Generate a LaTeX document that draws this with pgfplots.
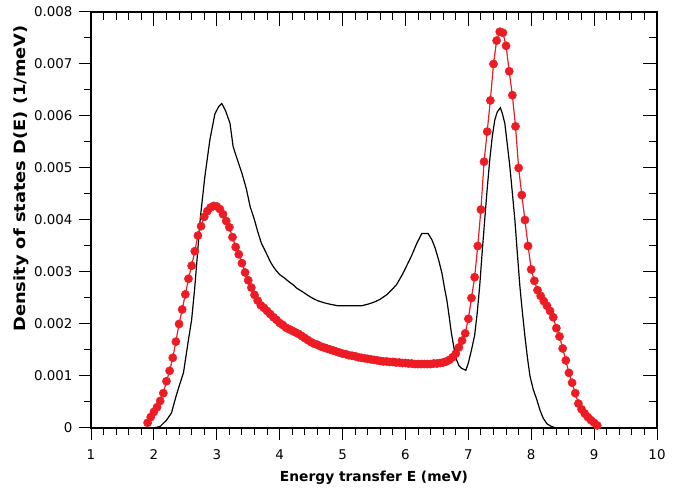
\documentclass[border=0pt]{standalone}
\usepackage{fontspec}
\setmainfont{DejaVu Sans}
\usepackage{graphicx}
\usepackage{pgfplots}
\usepackage{pgfplotstable}
\pgfplotsset{compat=1.18}
\usetikzlibrary{calc}
\definecolor{dotred}{RGB}{237,28,36}

% measured density of states (red dots)
\pgfplotstableread{
E D
1.90 0.00010
1.95 0.00021
2.00 0.00031
2.05 0.00040
2.10 0.00052
2.15 0.00067
2.20 0.00090
2.25 0.00110
2.30 0.00135
2.35 0.00166
2.40 0.00200
2.45 0.00228
2.50 0.00257
2.55 0.00287
2.60 0.00312
2.65 0.00340
2.70 0.00370
2.75 0.00388
2.80 0.00406
2.85 0.00417
2.90 0.00424
2.95 0.00427
3.00 0.00426
3.05 0.00421
3.10 0.00411
3.15 0.00398
3.20 0.00386
3.25 0.00367
3.30 0.00348
3.35 0.00334
3.40 0.00317
3.45 0.00299
3.50 0.00284
3.55 0.00270
3.60 0.00256
3.65 0.00245
3.70 0.00236
3.75 0.00231
3.80 0.00225
3.85 0.00219
3.90 0.00213
3.95 0.00208
4.00 0.00202
4.05 0.00198
4.10 0.00193
4.15 0.00190
4.20 0.00187
4.25 0.00184
4.30 0.00181
4.35 0.00177
4.40 0.00173
4.45 0.00169
4.50 0.00165
4.55 0.00162
4.60 0.00160
4.65 0.00157
4.70 0.00155
4.75 0.00153
4.80 0.00151
4.85 0.00149
4.90 0.00147
4.95 0.00145
5.00 0.00143
5.05 0.00142
5.10 0.00140
5.15 0.00139
5.20 0.00138
5.25 0.00136
5.30 0.00135
5.35 0.00134
5.40 0.00133
5.45 0.00132
5.50 0.00131
5.55 0.00130
5.60 0.00129
5.65 0.00128
5.70 0.00128
5.75 0.00127
5.80 0.00127
5.85 0.00126
5.90 0.00126
5.95 0.00125
6.00 0.00125
6.05 0.00124
6.10 0.00124
6.15 0.00123
6.20 0.00123
6.25 0.00123
6.30 0.00123
6.35 0.00123
6.40 0.00123
6.45 0.00124
6.50 0.00124
6.55 0.00125
6.60 0.00126
6.65 0.00128
6.70 0.00131
6.75 0.00136
6.80 0.00143
6.85 0.00155
6.90 0.00168
6.95 0.00182
7.00 0.00210
7.05 0.00250
7.10 0.00290
7.15 0.00350
7.20 0.00420
7.25 0.00512
7.30 0.00570
7.35 0.00630
7.40 0.00700
7.45 0.00745
7.50 0.00762
7.55 0.00760
7.60 0.00735
7.65 0.00686
7.70 0.00640
7.75 0.00580
7.80 0.00500
7.85 0.00448
7.90 0.00400
7.95 0.00350
8.00 0.00305
8.05 0.00283
8.10 0.00265
8.15 0.00254
8.20 0.00244
8.25 0.00235
8.30 0.00225
8.35 0.00213
8.40 0.00192
8.45 0.00176
8.50 0.00153
8.55 0.00130
8.60 0.00106
8.65 0.00087
8.70 0.00067
8.75 0.00047
8.80 0.00036
8.85 0.00028
8.90 0.00021
8.95 0.00015
9.00 0.00010
9.05 0.00005
}\dotdata

% calculated curve (black line)
\pgfplotstableread{
E D
2.00 0.00000
2.10 0.00003
2.20 0.00015
2.28 0.00029
2.35 0.00060
2.40 0.00080
2.47 0.00106
2.55 0.00170
2.60 0.00208
2.65 0.00270
2.69 0.00330
2.74 0.00406
2.81 0.00483
2.89 0.00554
2.97 0.00604
3.03 0.00618
3.08 0.00624
3.14 0.00610
3.21 0.00586
3.26 0.00541
3.33 0.00515
3.40 0.00490
3.47 0.00460
3.53 0.00426
3.60 0.00400
3.65 0.00378
3.71 0.00355
3.76 0.00343
3.80 0.00333
3.85 0.00320
3.90 0.00310
3.95 0.00302
4.00 0.00295
4.06 0.00290
4.10 0.00286
4.16 0.00280
4.22 0.00275
4.27 0.00269
4.35 0.00263
4.45 0.00255
4.53 0.00249
4.60 0.00245
4.70 0.00241
4.80 0.00238
4.93 0.00235
5.10 0.00235
5.30 0.00235
5.40 0.00238
5.50 0.00242
5.59 0.00247
5.70 0.00256
5.80 0.00268
5.86 0.00276
5.95 0.00295
6.02 0.00312
6.10 0.00332
6.18 0.00355
6.26 0.00374
6.36 0.00374
6.42 0.00362
6.47 0.00347
6.53 0.00322
6.58 0.00298
6.62 0.00270
6.66 0.00245
6.70 0.00210
6.73 0.00183
6.77 0.00155
6.81 0.00132
6.85 0.00120
6.89 0.00115
6.96 0.00111
7.00 0.00125
7.05 0.00150
7.10 0.00178
7.14 0.00220
7.18 0.00272
7.22 0.00338
7.26 0.00400
7.30 0.00460
7.34 0.00515
7.38 0.00560
7.42 0.00592
7.46 0.00608
7.51 0.00616
7.54 0.00605
7.58 0.00586
7.62 0.00545
7.66 0.00503
7.70 0.00452
7.74 0.00400
7.78 0.00335
7.82 0.00272
7.86 0.00222
7.90 0.00176
7.94 0.00135
7.98 0.00100
8.03 0.00075
8.09 0.00054
8.14 0.00034
8.19 0.00019
8.25 0.00008
8.32 0.00003
8.40 0.00000
}\linedata

\begin{document}
\begin{tikzpicture}
\pgfplotsset{
  common/.style={
    scale only axis, width=566pt, height=416pt,
    xmin=1, xmax=10, ymin=0, ymax=0.008,
    xtick={1,2,3,4,5,6,7,8,9,10},
    ytick={0,0.001,0.002,0.003,0.004,0.005,0.006,0.007,0.008},
    minor x tick num=4, minor y tick num=1,
    scaled y ticks=false,
    tick style={black, line width=1pt},
    axis line style={line width=1.2pt},
  },
}
% top and right: inward ticks, no labels
\begin{axis}[common,
  xtick pos=right, ytick pos=right, tick align=inside,
  major tick length=14pt, minor tick length=8pt,
  xticklabels={}, yticklabels={},
]
\end{axis}
\begin{axis}[common, name=main,
  xtick pos=left, ytick pos=left, tick align=outside,
  major tick length=12pt, minor tick length=7pt,
  xticklabels={1,2,3,4,5,6,7,8,9,10},
  yticklabels={0,0.001,0.002,0.003,0.004,0.005,0.006,0.007,0.008},
  tick label style={font=\fontsize{13.4}{15}\selectfont},
  xticklabel style={yshift=-6pt},
  yticklabel style={xshift=-3pt},
  xlabel={Energy transfer E (meV)},
  ylabel={\scalebox{1.15}[1]{Density of states D(E) (1/meV)}},
  xlabel style={font=\bfseries\fontsize{13.8}{15}\selectfont,
    at={(axis description cs:0.5,-0.129)}, anchor=base},
  ylabel style={font=\bfseries\fontsize{15.5}{17}\selectfont,
    at={(axis description cs:-0.1157,0.600)}, anchor=base},
]
\addplot[black, line width=1.2pt, no marks] table[x=E, y=D] {\linedata};
\addplot[dotred, line width=1.2pt, mark=*, mark size=4.1pt,
  mark options={fill=dotred, draw=dotred, line width=0.5pt}] table[x=E, y=D] {\dotdata};
\end{axis}
\pgfresetboundingbox
\path ($(main.south west)+(-91pt,-61pt)$) rectangle ($(main.north east)+(25pt,12pt)$);
\end{tikzpicture}
\end{document}
